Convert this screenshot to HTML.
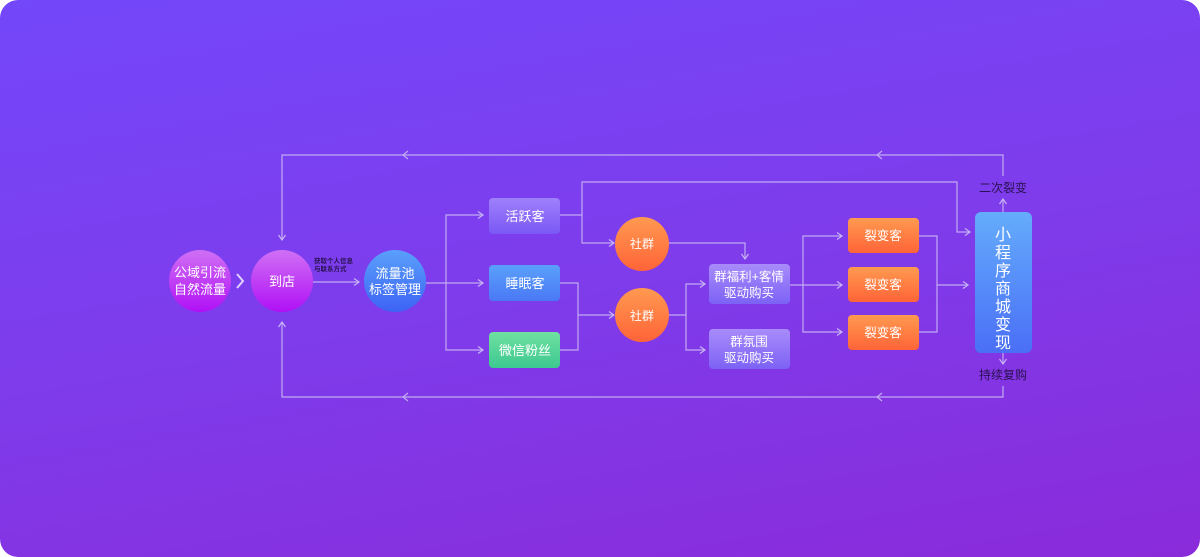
<!DOCTYPE html>
<html><head><meta charset="utf-8"><style>
html,body{margin:0;padding:0;background:#fff;}
.bg{position:absolute;left:0;top:0;width:1200px;height:557px;border-radius:18px;background:linear-gradient(170deg,#7347fa 0%,#7e3ceb 50%,#8a2bda 100%);overflow:hidden}
svg{position:absolute;left:0;top:0}
text{font-family:"Liberation Sans","Noto Sans CJK SC",sans-serif;}
</style></head><body>
<div class="bg"></div>
<svg width="1200" height="557" viewBox="0 0 1200 557">
<defs>
<linearGradient id="pk" x1="0" y1="0" x2="0" y2="1"><stop offset="0" stop-color="#d070f5"/><stop offset="1" stop-color="#b010f5"/></linearGradient>
<linearGradient id="bl" x1="0" y1="0" x2="0" y2="1"><stop offset="0" stop-color="#5aa0fb"/><stop offset="1" stop-color="#3d63f5"/></linearGradient>
<linearGradient id="pu" x1="0" y1="0" x2="0" y2="1"><stop offset="0" stop-color="#9f80fb"/><stop offset="1" stop-color="#7a58f5"/></linearGradient>
<linearGradient id="sb" x1="0" y1="0" x2="0" y2="1"><stop offset="0" stop-color="#5aa0fb"/><stop offset="1" stop-color="#4a78f5"/></linearGradient>
<linearGradient id="gr" x1="0" y1="0" x2="0" y2="1"><stop offset="0" stop-color="#6fe0a0"/><stop offset="1" stop-color="#3cc890"/></linearGradient>
<linearGradient id="or" x1="0" y1="0" x2="0" y2="1"><stop offset="0" stop-color="#ff9a50"/><stop offset="1" stop-color="#ff6438"/></linearGradient>
<linearGradient id="bx" x1="0" y1="0" x2="0" y2="1"><stop offset="0" stop-color="#a88cfb"/><stop offset="1" stop-color="#7c62f5"/></linearGradient>
<linearGradient id="mb" x1="0" y1="0" x2="0" y2="1"><stop offset="0" stop-color="#64acfc"/><stop offset="1" stop-color="#4a6ff6"/></linearGradient>
<marker id="a" markerWidth="8" markerHeight="8" refX="6" refY="4" orient="auto" markerUnits="userSpaceOnUse"><path d="M1,0.5 L6,4 L1,7.5" fill="none" stroke="#c8b4f5" stroke-width="1.2"/></marker>
</defs>
<g fill="none" stroke="#c2aaf2" stroke-width="1.2">
<path d="M1003,176 V155 H282 V240" marker-end="url(#a)"/>
<path d="M1003,386 V397 H282 V322" marker-end="url(#a)"/>
<path d="M1003,353 V364" marker-end="url(#a)"/>
<path d="M1003,212 V199" marker-end="url(#a)"/>
<path d="M313,282 H359" marker-end="url(#a)"/>
<path d="M426,283 H483" marker-end="url(#a)"/>
<path d="M446,283 V215 H483" marker-end="url(#a)"/>
<path d="M446,283 V350 H483" marker-end="url(#a)"/>
<path d="M560,215 H582 V243 H614" marker-end="url(#a)"/>
<path d="M582,215 V182 H957 V232 H970" marker-end="url(#a)"/>
<path d="M560,283 H578 V350 H560"/>
<path d="M578,315 H614" marker-end="url(#a)"/>
<path d="M669,243 H745 V259" marker-end="url(#a)"/>
<path d="M669,315 H686"/>
<path d="M686,315 V284 H705" marker-end="url(#a)"/>
<path d="M686,315 V350 H705" marker-end="url(#a)"/>
<path d="M790,285 H842" marker-end="url(#a)"/>
<path d="M803,285 V236 H842" marker-end="url(#a)"/>
<path d="M803,285 V332 H842" marker-end="url(#a)"/>
<path d="M919,236 H937 V332 H919"/>
<path d="M937,285 H968" marker-end="url(#a)"/>
<path d="M408,151 L403,155 L408,159"/><path d="M882,151 L877,155 L882,159"/>
<path d="M408,393 L403,397 L408,401"/><path d="M882,393 L877,397 L882,401"/>
</g>
<path d="M237,274 L243,281 L237,288" fill="none" stroke="#e0d0ff" stroke-width="2"/>
<circle cx="200" cy="281" r="31" fill="url(#pk)"/>
<circle cx="282" cy="281" r="31" fill="url(#pk)"/>
<circle cx="395" cy="281" r="31" fill="url(#bl)"/>
<circle cx="642" cy="244" r="27" fill="url(#or)"/>
<circle cx="642" cy="315" r="27" fill="url(#or)"/>
<rect x="489" y="198" width="71" height="36" rx="4" fill="url(#pu)"/>
<rect x="489" y="265" width="71" height="36" rx="4" fill="url(#sb)"/>
<rect x="489" y="332" width="71" height="36" rx="4" fill="url(#gr)"/>
<rect x="709" y="264" width="81" height="40" rx="4" fill="url(#bx)"/>
<rect x="709" y="329" width="81" height="40" rx="4" fill="url(#bx)"/>
<rect x="848" y="218" width="71" height="35" rx="4" fill="url(#or)"/>
<rect x="848" y="267" width="71" height="35" rx="4" fill="url(#or)"/>
<rect x="848" y="315" width="71" height="35" rx="4" fill="url(#or)"/>
<rect x="975" y="212" width="57" height="141" rx="6" fill="url(#mb)"/>
<g fill="#fff" font-size="13" text-anchor="middle">
<text x="200" y="277">公域引流</text><text x="200" y="294">自然流量</text>
<text x="282" y="286">到店</text>
<text x="395" y="278">流量池</text><text x="395" y="294">标签管理</text>
<text x="525" y="221">活跃客</text>
<text x="525" y="288">睡眠客</text>
<text x="525" y="355">微信粉丝</text>
<text x="642" y="248" font-size="12">社群</text>
<text x="642" y="320" font-size="12">社群</text>
<text x="749" y="281" font-size="12.5">群福利+客情</text><text x="749" y="297" font-size="12.5">驱动购买</text>
<text x="749" y="346" font-size="12.5">群氛围</text><text x="749" y="362" font-size="12.5">驱动购买</text>
<text x="883" y="240" font-size="12.5">裂变客</text>
<text x="883" y="289" font-size="12.5">裂变客</text>
<text x="883" y="337" font-size="12.5">裂变客</text>
<g font-size="16"><text x="1003" y="240">小</text><text x="1003" y="258">程</text><text x="1003" y="276">序</text><text x="1003" y="294">商</text><text x="1003" y="312">城</text><text x="1003" y="330">变</text><text x="1003" y="348">现</text></g>
</g>
<g fill="#2a1250" font-size="12" text-anchor="middle">
<text x="1003" y="192">二次裂变</text>
<text x="1003" y="379">持续复购</text>
</g>
<g fill="#2a1250" font-size="6.5" font-weight="bold">
<text x="314" y="263">获取个人信息</text><text x="314" y="271">与联系方式</text>
</g>
</svg>
</body></html>
